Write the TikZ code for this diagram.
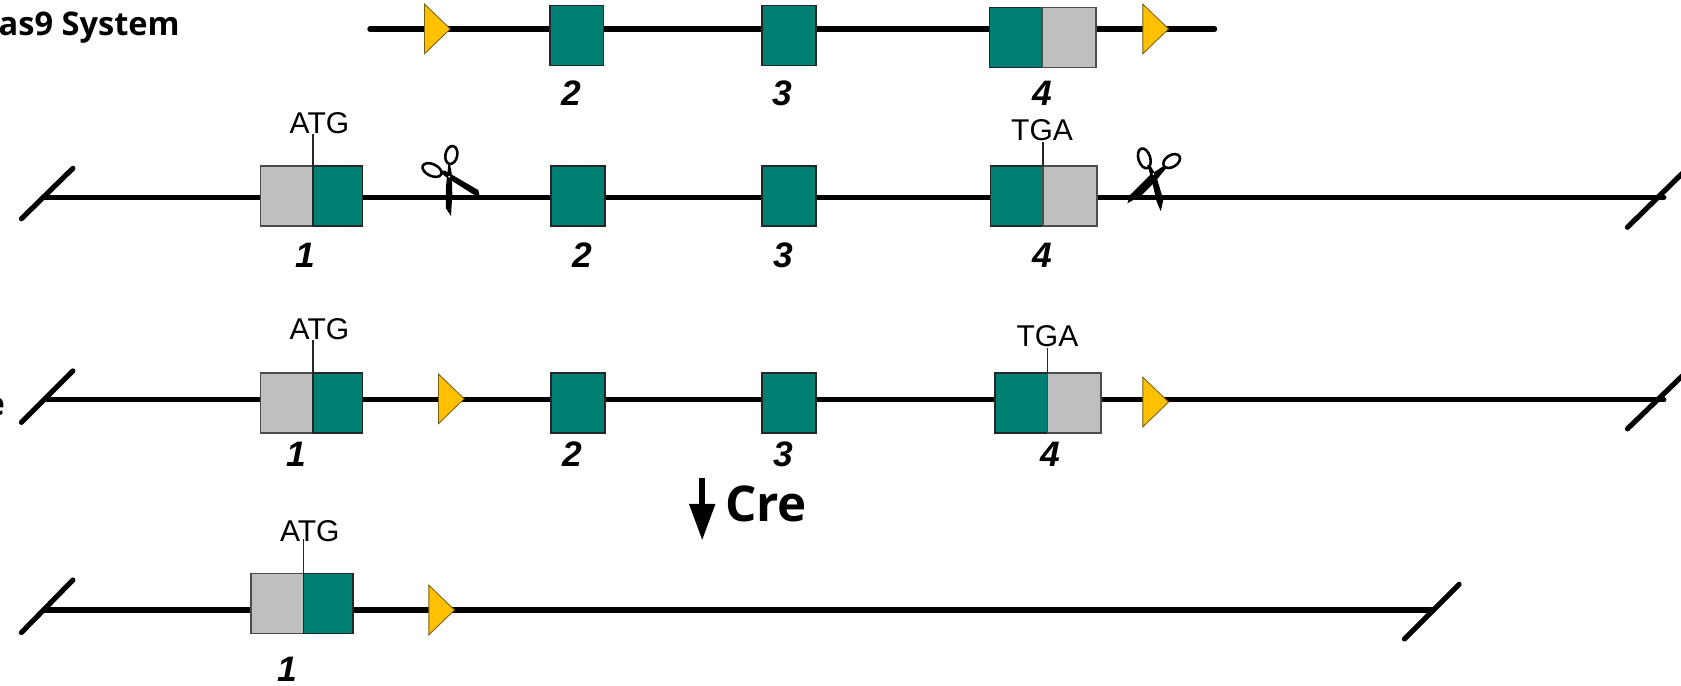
\documentclass[tikz,border=0pt]{standalone}
\usepackage{fontspec}
\setmainfont{Liberation Sans}
\newfontfamily\titlefont{Open Sans}
\usetikzlibrary{positioning, arrows.meta, calc, shapes.geometric}
\definecolor{exonteal}{RGB}{0, 128, 115}
\definecolor{utrgrey}{RGB}{191, 191, 191}
\definecolor{loxyellow}{RGB}{255, 192, 0}
\definecolor{loxedge}{RGB}{120, 95, 20}

\begin{document}
\begin{tikzpicture}[
    x=0.5pt, y=-0.5pt,
    >=Stealth,
    exon/.style={draw=black!85, line width=0.8pt, fill=exonteal, minimum width=25pt, minimum height=28pt, inner sep=0pt, outer sep=0pt},
    utr/.style={exon, draw=black!70, fill=utrgrey},
    lox/.style={draw=loxedge, line width=0.4pt, fill=loxyellow, isosceles triangle, isosceles triangle apex angle=88, minimum height=12pt, inner sep=0pt, outer sep=0pt, anchor=apex},
    strand/.style={line width=2.4pt, line cap=round},
    tick/.style={line width=0.6pt, black!85},
    codon/.style={font=\fontsize{14}{14}\selectfont, inner sep=0pt},
    exonnum/.style={font=\fontsize{16.5}{16.5}\selectfont\bfseries\itshape, inner sep=0pt},
    heading/.style={font=\fontsize{15.2}{15}\selectfont\titlefont\bfseries, inner sep=0pt},
    ring/.style={draw=black, line width=1.2pt},
    blade/.style={fill=black},
]
\clip (0,0) rectangle (1568,639);

% ===== row 1: donor =====
\coordinate (r1a) at (345,27);
\coordinate (r1b) at (1133,27);
\draw[strand] (r1a) -- (r1b);
\node[heading, anchor=base east] (title) at (168,33) {as9 System};
\node[lox] (r1loxa) at (420,27) {};
\node[exon] (r1e2) at (538,33) {};
\node[exon] (r1e3) at (736,33) {};
\node[exon, minimum width=24.5pt] (r1e4) at (947.5,35) {};
\node[utr, right=0pt of r1e4] (r1u4) {};
\node[lox] (r1loxb) at (1090,27) {};
\node[exonnum] (r1n2) at (533,87) {2};
\node[exonnum] (r1n3) at (730,87) {3};
\node[exonnum] (r1n4) at (972,87) {4};

% ===== row 2: wild type =====
\coordinate (r2a) at (42,184);
\coordinate (r2b) at (1552,184);
\coordinate (r2sa) at (20,204);
\coordinate (r2sb) at (68,157);
\coordinate (r2sc) at (1518,212);
\coordinate (r2sd) at (1574,157);
\draw[strand] (r2a) -- (r2b);
\draw[strand] (r2sa) -- (r2sb);
\draw[strand] (r2sc) -- (r2sd);
\node[utr, minimum width=24.5pt] (r2u1) at (267.5,183) {};
\node[exon, minimum width=23pt, right=0pt of r2u1] (r2e1) {};
\node[exon] (r2e2) at (539,183) {};
\node[exon] (r2e3) at (736,183) {};
\node[exon, minimum width=24.5pt] (r2e4) at (948.5,183) {};
\node[utr, right=0pt of r2e4] (r2u4) {};
\node[codon] (r2atg) at (298,115) {ATG};
\node[codon] (r2tga) at (972,121) {TGA};
\coordinate (r2ta) at (292,125);
\coordinate (r2tb) at (973,132);
\draw[tick] (r2e1.north west) -- (r2ta);
\draw[tick] (r2e4.north east) -- (r2tb);
\node[exonnum] (r2n1) at (285,238) {1};
\node[exonnum] (r2n2) at (543,238) {2};
\node[exonnum] (r2n3) at (731,238) {3};
\node[exonnum] (r2n4) at (972,238) {4};

% scissors left
\draw[ring, rotate around={78:(421,144.6)}] (421,144.6) ellipse (8.5 and 5.5);
\draw[ring, rotate around={-25:(403,158.6)}] (403,158.6) ellipse (9.5 and 5.5);
\fill[blade] (418.2,152.4) -- (419.7,152.4) -- (421.3,161.7) -- (421.9,180.4) -- (420.7,201.5) -- (416,194.4) -- (416,174.2) -- (417.3,161.7) -- cycle;
\fill[blade] (410.4,159.2) -- (415.1,159.2) -- (446.2,177.3) -- (447.7,184.4) -- (440,180.4) -- (416.6,165.5) -- (411,161.1) -- cycle;
\fill[white] (419,164.8) circle (1);

% scissors right
\draw[ring, rotate around={-73:(1067.4,147.7)}] (1067.4,147.7) ellipse (9.5 and 5.5);
\draw[ring, rotate around={32:(1092.9,150.2)}] (1092.9,150.2) ellipse (8.5 and 5.5);
\fill[blade] (1070.2,153.9) -- (1072.7,153.9) -- (1078.3,163.3) -- (1085.1,186.6) -- (1082.7,196.9) -- (1078.9,188.1) -- (1074.3,167.9) -- cycle;
\fill[blade] (1085.1,154.9) -- (1087.6,157.1) -- (1077.4,169.5) -- (1065,181.9) -- (1051.6,189.7) -- (1054,181.9) -- (1072.7,163.3) -- cycle;
\fill[white] (1075.8,162.3) circle (1);

% ===== row 3: floxed =====
\coordinate (r3a) at (42,373);
\coordinate (r3b) at (1552,373);
\coordinate (r3sa) at (20,394);
\coordinate (r3sb) at (68,346);
\coordinate (r3sc) at (1518,400);
\coordinate (r3sd) at (1574,346);
\draw[strand] (r3a) -- (r3b);
\draw[strand] (r3sa) -- (r3sb);
\draw[strand] (r3sc) -- (r3sd);
\node[heading, anchor=base east] (mouse) at (5,388) {e};
\node[utr, minimum width=24.5pt] (r3u1) at (267.5,376) {};
\node[exon, minimum width=23pt, right=0pt of r3u1] (r3e1) {};
\node[lox] (r3loxa) at (433,372) {};
\node[exon] (r3e2) at (539,376) {};
\node[exon] (r3e3) at (736,376) {};
\node[exon, minimum width=24.5pt] (r3e4) at (952.5,376) {};
\node[utr, right=0pt of r3e4] (r3u4) {};
\node[lox] (r3loxb) at (1090,375) {};
\node[codon] (r3atg) at (298,307) {ATG};
\node[codon] (r3tga) at (977,314) {TGA};
\coordinate (r3ta) at (292,317);
\coordinate (r3tb) at (977,325);
\draw[tick] (r3e1.north west) -- (r3ta);
\draw[tick] (r3e4.north east) -- (r3tb);
\node[exonnum] (r3n1) at (276,424) {1};
\node[exonnum] (r3n2) at (534,424) {2};
\node[exonnum] (r3n3) at (731,424) {3};
\node[exonnum] (r3n4) at (980,424) {4};

% ===== Cre =====
\coordinate (crea) at (655,446);
\coordinate (creb) at (655,504);
\draw[-{Triangle[length=17pt, width=11.6pt]}, line width=2.6pt] (crea) -- (creb);
\node[font=\fontsize{23}{23}\selectfont\titlefont\bfseries, inner sep=0pt, anchor=base west] (cre) at (676,486) {Cre};

% ===== row 4: deleted =====
\coordinate (r4a) at (42,569);
\coordinate (r4b) at (1337,569);
\coordinate (r4sa) at (20,590);
\coordinate (r4sb) at (68,541);
\coordinate (r4sc) at (1310,596);
\coordinate (r4sd) at (1361,545);
\draw[strand] (r4a) -- (r4b);
\draw[strand] (r4sa) -- (r4sb);
\draw[strand] (r4sc) -- (r4sd);
\node[utr, minimum width=24.5pt] (r4u1) at (258.5,563) {};
\node[exon, minimum width=23pt, right=0pt of r4u1] (r4e1) {};
\node[lox] (r4loxa) at (424,569) {};
\node[codon] (r4atg) at (289,495) {ATG};
\coordinate (r4ta) at (283,503);
\draw[tick] (r4e1.north west) -- (r4ta);
\node[exonnum] (r4n1) at (268,624) {1};

\end{tikzpicture}
\end{document}
